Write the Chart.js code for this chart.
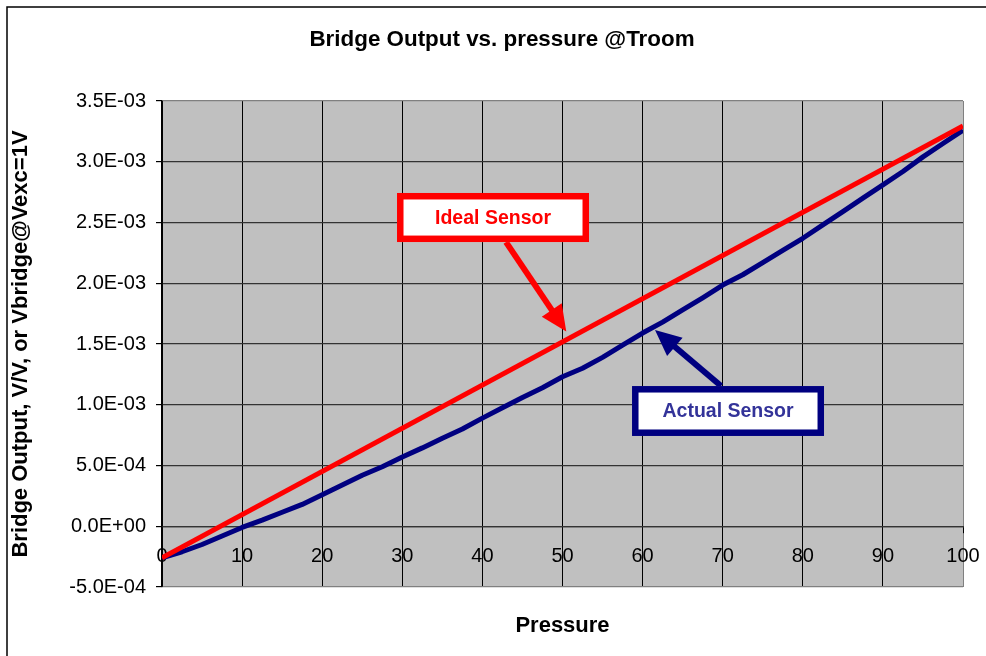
<!DOCTYPE html>
<html>
<head>
<meta charset="utf-8">
<script src="https://cdn.jsdelivr.net/npm/chart.js@4/dist/chart.umd.min.js"></script>
<style>
  html, body { margin: 0; padding: 0; background: #fff; }
  #wrap { width: 986px; height: 656px; position: relative; }
</style>
</head>
<body>
<div id="wrap"><canvas id="c" width="986" height="656"></canvas></div>
<script>
// ---- data ----
const chartTitle = 'Bridge Output vs. pressure @Troom';
const xTitle = 'Pressure';
const yTitle = 'Bridge Output, V/V, or Vbridge@Vexc=1V';

const idealPressure = [0, 100];
const idealOutput = [-0.26e-3, 3.295e-3];

const actualPressure = [0, 2.5, 5, 7.5, 10, 12.5, 15, 17.5, 20, 22.5, 25, 27.5, 30, 32.5, 35, 37.5,
  40, 42.5, 45, 47.5, 50, 52.5, 55, 57.5, 60, 62.5, 65, 67.5, 70, 72.5, 75, 77.5, 80, 82.5, 85,
  87.5, 90, 92.5, 95, 97.5, 100];
const actualOutput = [-0.26e-3, -0.21e-3, -0.15e-3, -0.08e-3, -0.01e-3, 0.05e-3, 0.115e-3, 0.18e-3,
  0.26e-3, 0.34e-3, 0.42e-3, 0.49e-3, 0.57e-3, 0.645e-3, 0.725e-3, 0.80e-3, 0.89e-3, 0.975e-3,
  1.06e-3, 1.14e-3, 1.23e-3, 1.30e-3, 1.39e-3, 1.49e-3, 1.59e-3, 1.68e-3, 1.78e-3, 1.88e-3,
  1.985e-3, 2.07e-3, 2.17e-3, 2.27e-3, 2.37e-3, 2.48e-3, 2.59e-3, 2.70e-3, 2.81e-3, 2.92e-3,
  3.04e-3, 3.15e-3, 3.26e-3];

const xTickValues = [0, 10, 20, 30, 40, 50, 60, 70, 80, 90, 100];
const yTickValues = [-5e-4, 0, 5e-4, 1e-3, 1.5e-3, 2e-3, 2.5e-3, 3e-3, 3.5e-3];

// callouts (in data units)
const idealCallout = { label: 'Ideal Sensor', box: [29.34, 53.31, 2.743e-3, 2.339e-3],
  from: [42.95, 2.339e-3], to: [50.47, 1.603e-3] };
const actualCallout = { label: 'Actual Sensor', box: [58.68, 82.65, 1.154e-3, 0.743e-3],
  from: [69.8, 1.154e-3], to: [61.55, 1.615e-3] };

// ---- helpers ----
function fmtExp(v) {
  if (Math.abs(v) < 1e-12) return '0.0E+00';
  let e = Math.floor(Math.log10(Math.abs(v)) + 1e-9);
  let m = Math.round(v / Math.pow(10, e) * 10) / 10;
  if (Math.abs(m) >= 10) { m /= 10; e++; }
  return m.toFixed(1) + 'E' + (e < 0 ? '-' : '+') + String(Math.abs(e)).padStart(2, '0');
}
const near = (a, b) => Math.abs(a - b) < 1e-9;
const FONT = "'Liberation Sans', Arial, sans-serif";

const bgPlugin = {
  id: 'bg',
  beforeDraw(chart) {
    const { ctx, chartArea: a } = chart;
    ctx.save();
    ctx.fillStyle = '#fff';
    ctx.fillRect(0, 0, chart.width, chart.height);
    ctx.fillStyle = '#C0C0C0';
    ctx.fillRect(a.left, a.top, a.right - a.left, a.bottom - a.top);
    ctx.restore();
  },
  afterDraw(chart) {
    const ctx = chart.ctx;
    ctx.save();
    ctx.strokeStyle = '#000';
    ctx.lineWidth = 1.5;
    ctx.beginPath();
    ctx.moveTo(7, chart.height + 5);
    ctx.lineTo(7, 7);
    ctx.lineTo(chart.width + 5, 7);
    ctx.stroke();
    // chart title (centred over the Excel chart frame, not the canvas)
    ctx.fillStyle = '#000';
    ctx.font = 'bold 22.4px ' + FONT;
    ctx.textAlign = 'center';
    ctx.textBaseline = 'middle';
    ctx.fillText(chartTitle, 502, 40);
    ctx.restore();
  }
};

function drawArrow(ctx, x1, y1, x2, y2, color, w, headLen, headW) {
  const dx = x2 - x1, dy = y2 - y1, L = Math.hypot(dx, dy);
  const ux = dx / L, uy = dy / L;
  const bx = x2 - ux * headLen, by = y2 - uy * headLen;
  ctx.strokeStyle = color; ctx.fillStyle = color; ctx.lineWidth = w;
  ctx.beginPath(); ctx.moveTo(x1, y1); ctx.lineTo(bx + ux * 2, by + uy * 2); ctx.stroke();
  ctx.beginPath();
  ctx.moveTo(x2, y2);
  ctx.lineTo(bx - uy * headW / 2, by + ux * headW / 2);
  ctx.lineTo(bx + uy * headW / 2, by - ux * headW / 2);
  ctx.closePath(); ctx.fill();
}

function drawCallout(chart, c, borderColor, textColor) {
  const { ctx, scales: { x, y } } = chart;
  const fx = x.getPixelForValue(c.from[0]), fy = y.getPixelForValue(c.from[1]);
  const tx = x.getPixelForValue(c.to[0]), ty = y.getPixelForValue(c.to[1]);
  drawArrow(ctx, fx, fy, tx, ty, borderColor, 6, 26, 24);
  const l = x.getPixelForValue(c.box[0]), r = x.getPixelForValue(c.box[1]);
  const t = y.getPixelForValue(c.box[2]), b = y.getPixelForValue(c.box[3]);
  const bw = 6.5;
  ctx.fillStyle = '#fff';
  ctx.fillRect(l, t, r - l, b - t);
  ctx.strokeStyle = borderColor; ctx.lineWidth = bw;
  ctx.strokeRect(l + bw / 2, t + bw / 2, r - l - bw, b - t - bw);
  ctx.fillStyle = textColor;
  ctx.font = 'bold 19.5px ' + FONT;
  ctx.textAlign = 'center'; ctx.textBaseline = 'middle';
  ctx.fillText(c.label, (l + r) / 2, (t + b) / 2 + 1);
}

const calloutPlugin = {
  id: 'callouts',
  afterDatasetsDraw(chart) {
    const ctx = chart.ctx;
    ctx.save();
    drawCallout(chart, idealCallout, '#FF0000', '#FF0000');
    drawCallout(chart, actualCallout, '#000080', '#333399');
    ctx.restore();
  }
};

new Chart(document.getElementById('c'), {
  type: 'line',
  data: {
    datasets: [
      {
        label: 'Ideal Sensor',
        data: idealPressure.map((p, i) => ({ x: p, y: idealOutput[i] })),
        borderColor: '#FF0000', borderWidth: 5, pointRadius: 0, tension: 0, fill: false
      },
      {
        label: 'Actual Sensor',
        data: actualPressure.map((p, i) => ({ x: p, y: actualOutput[i] })),
        borderColor: '#000080', borderWidth: 5, pointRadius: 0, tension: 0, fill: false,
        borderJoinStyle: 'round'
      }
    ]
  },
  options: {
    responsive: false,
    animation: false,
    layout: { padding: { left: 0, right: 23, top: 101, bottom: 0 } },
    plugins: {
      legend: { display: false },
      tooltip: { enabled: false },
      title: { display: false }
    },
    scales: {
      x: {
        type: 'linear', min: 0, max: 100,
        position: { y: 0 },
        afterBuildTicks: s => { s.ticks = xTickValues.map(v => ({ value: v })); },
        afterFit: s => { s.paddingLeft = 0; s.paddingRight = 0; s.paddingTop = 0; s.paddingBottom = 0; },
        ticks: { color: '#000', font: { family: FONT, size: 20 }, padding: 12, maxRotation: 0, autoSkip: false,
          callback: v => String(v) },
        grid: {
          color: c => (c.tick && near(c.tick.value, 100)) ? '#808080' : '#000',
          lineWidth: 1, tickLength: 6, tickColor: '#000'
        },
        border: { display: true, color: '#333', width: 1.2 }
      },
      x2: {
        type: 'linear', min: 0, max: 100, position: 'bottom',
        afterFit: s => { s.height = 69; s.paddingLeft = 0; s.paddingRight = 0; },
        ticks: { display: false },
        grid: { display: false, drawTicks: false },
        border: { display: false },
        title: { display: true, text: xTitle, color: '#000',
          font: { family: FONT, size: 22, weight: 'bold' }, padding: { top: 0, bottom: 16.8 } }
      },
      y: {
        type: 'linear', min: -5e-4, max: 3.5e-3, position: 'left',
        afterBuildTicks: s => { s.ticks = yTickValues.map(v => ({ value: v })); },
        afterFit: s => { s.width = 162; s.paddingTop = 0; s.paddingBottom = 0; },
        ticks: { color: '#000', font: { family: FONT, size: 20 }, padding: 10, autoSkip: false,
          callback: v => fmtExp(v) },
        grid: {
          color: c => (c.tick && (near(c.tick.value, 3.5e-3) || near(c.tick.value, -5e-4))) ? '#808080' : '#333',
          lineWidth: 1.2, tickLength: 6, tickColor: '#000'
        },
        border: { display: true, color: '#000', width: 1.5 },
        title: { display: true, text: yTitle, color: '#000',
          font: { family: FONT, size: 22, weight: 'bold' }, padding: { top: 8, bottom: 0 } }
      }
    }
  },
  plugins: [bgPlugin, calloutPlugin]
});
</script>
</body>
</html>
